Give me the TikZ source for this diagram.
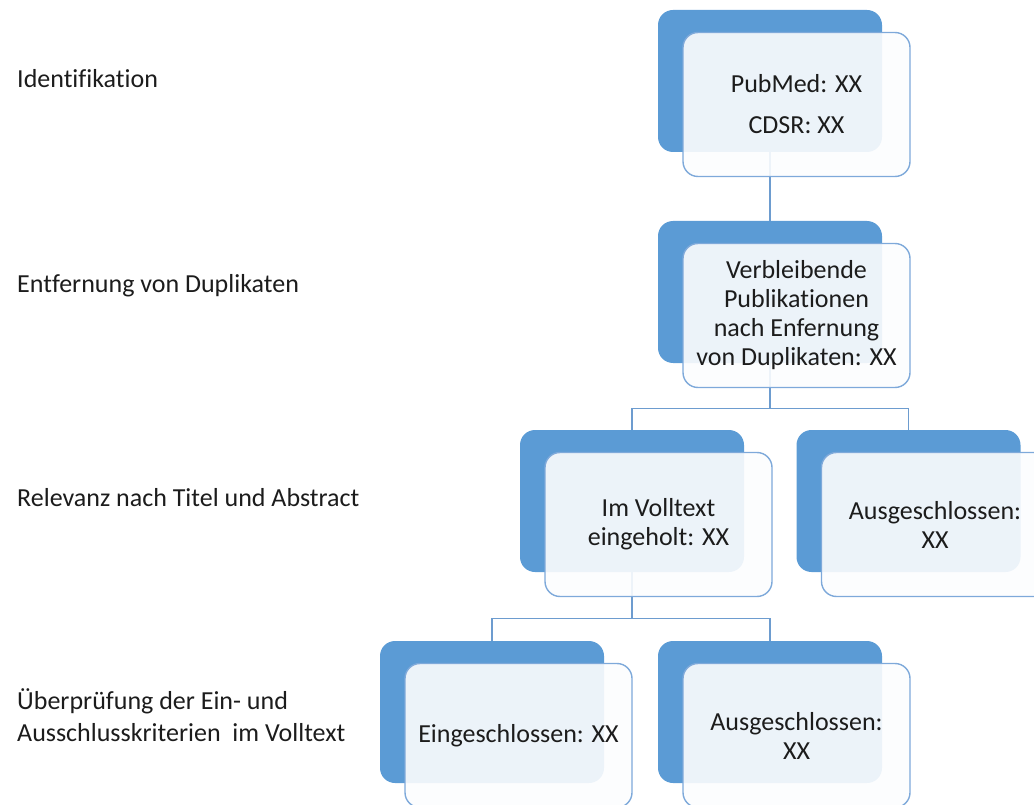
\documentclass[tikz,border=0pt]{standalone}
\usepackage{fontspec}
\setmainfont{Carlito}[Ligatures=NoCommon]
\usetikzlibrary{calc}
\definecolor{plateblue}{HTML}{5B9BD5}
\definecolor{frameblue}{HTML}{7EA9DA}
\definecolor{linkblue}{HTML}{6D9CCF}
\definecolor{inkgray}{HTML}{1C1C1C}
\definecolor{cardwhite}{HTML}{FCFDFE}

\begin{document}
\begin{tikzpicture}[
    x=1pt, y=-1pt,
    font=\fontsize{26}{29}\selectfont,
    text=inkgray,
    plate/.style={fill=plateblue, rounded corners=15pt, minimum width=224pt,
      minimum height=142pt, inner sep=0pt},
    card/.style={fill=cardwhite, fill opacity=0.9, text opacity=1, draw=frameblue,
      line width=1.4pt, rounded corners=15pt, minimum width=227pt,
      minimum height=144pt, inner sep=0pt, align=center},
    link/.style={draw=linkblue, line width=1.4pt},
    stage/.style={anchor=base west, inner sep=0pt, align=left},
  ]
  \useasboundingbox (0,0) rectangle (1034,805);
  \clip (0,0) rectangle (1034,805);

  % --- stage labels on the left -------------------------------------------
  \node[stage] (lab-ident) at (17,88)  {Identifikation};
  \node[stage] (lab-dup)   at (17,292) {Entfernung von Duplikaten};
  \node[stage] (lab-rel)   at (17,506) {Relevanz nach Titel und Abstract};
  \node[stage] (lab-check) at (17,741)
    {Überprüfung der Ein- und\\[3pt]Ausschlusskriterien\ \ im Volltext};

  % --- blue back plates ---------------------------------------------------
  \foreach \name/\x/\y in {search/770/81, dedup/770/292, fulltext/632/501,
      excluded/908.5/501, included/492/712, rejected/770/712} {
    \node[plate] (\name-b) at (\x,\y) {};
  }

  % --- connectors between the plates -------------------------------------
  \draw[link] (search-b.south) -- (dedup-b.north);
  \draw[link] (dedup-b.south) -- ++(0,45) -| (fulltext-b.north);
  \draw[link] (dedup-b.south) -- ++(0,45) -| (excluded-b.north);
  \draw[link] (fulltext-b.south) -- ++(0,46) -| (included-b.north);
  \draw[link] (fulltext-b.south) -- ++(0,46) -| (rejected-b.north);

  % --- light front cards with the counts ---------------------------------
  \foreach \name/\txt in {
      search/{PubMed: XX\\[12pt]CDSR: XX},
      dedup/{Verbleibende\\Publikationen\\nach Enfernung\\von Duplikaten: XX},
      fulltext/{Im Volltext\\eingeholt: XX},
      excluded/{Ausgeschlossen:\\XX},
      included/{Eingeschlossen: XX},
      rejected/{Ausgeschlossen:\\XX}} {
    \node[card] (\name) at ([shift={(26.5,23.5)}]\name-b.center) {\txt};
  }

\end{tikzpicture}
\end{document}
